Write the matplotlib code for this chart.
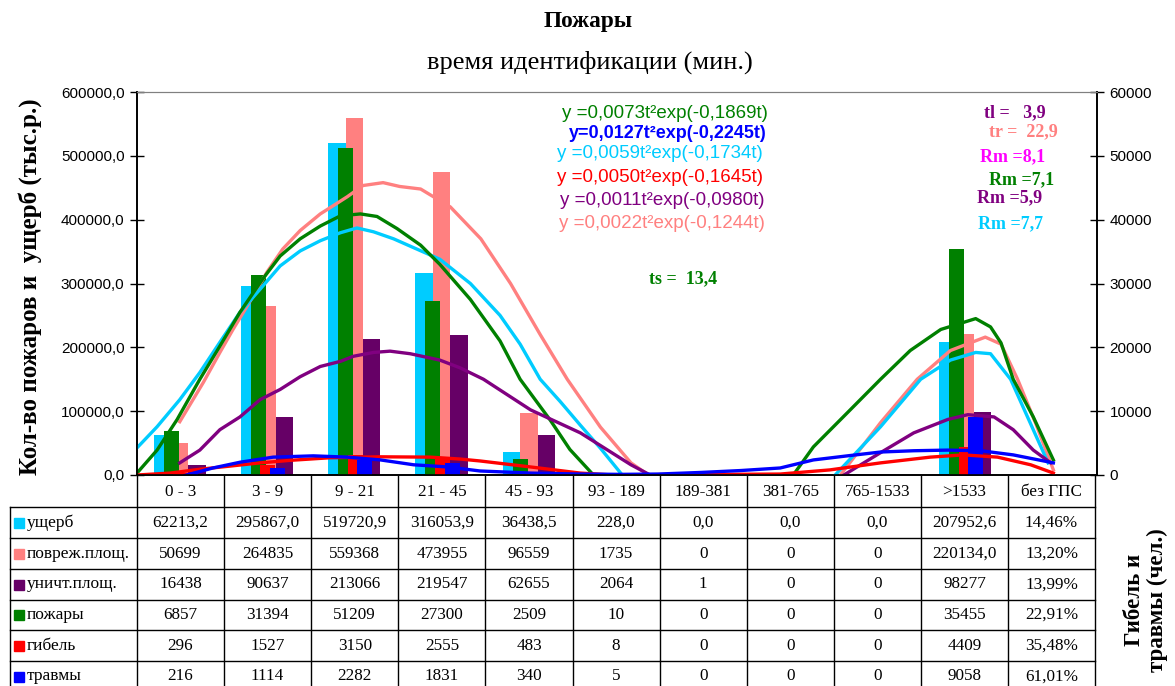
# Пожары - время идентификации: столбцы + сглаженные кривые + таблица данных
import numpy as np
import matplotlib
matplotlib.use('Agg')
import matplotlib.pyplot as plt
from matplotlib.patches import Rectangle
from matplotlib.lines import Line2D

# интервалы времени (мин.)
categories = ['0 - 3', '3 - 9', '9 - 21', '21 - 45', '45 - 93', '93 - 189',
              '189-381', '381-765', '765-1533', '>1533', 'без ГПС']

# левая ось
damage = [62213.2, 295867.0, 519720.9, 316053.9, 36438.5, 228.0, 0.0, 0.0, 0.0, 207952.6]
damaged_area = [50699, 264835, 559368, 473955, 96559, 1735, 0, 0, 0, 220134.0]
destroyed_area = [16438, 90637, 213066, 219547, 62655, 2064, 1, 0, 0, 98277]
# правая ось
fires = [6857, 31394, 51209, 27300, 2509, 10, 0, 0, 0, 35455]
deaths = [296, 1527, 3150, 2555, 483, 8, 0, 0, 0, 4409]
injuries = [216, 1114, 2282, 1831, 340, 5, 0, 0, 0, 9058]
# колонка "без ГПС"
no_gps = ['14,46%', '13,20%', '13,99%', '22,91%', '35,48%', '61,01%']

# кривые (x в единицах категорий, y в единицах левой оси)
damage_cx = [0, 0.23, 0.49, 0.72, 0.95, 1.18, 1.41, 1.64, 1.87, 2.10, 2.33, 2.52, 2.71, 2.94,
             3.47, 3.82, 4.16, 4.39, 4.62, 4.85, 5.08, 5.31, 5.56, np.nan,
             8.0, 8.52, 8.98, 9.32, 9.61, 9.78, 10.01, 10.24, 10.44]
damage_cy = [42500, 75600, 118000, 160600, 208000, 255000, 291000, 327500, 351000, 367000,
             379500, 387000, 381000, 370000, 338000, 300000, 250000, 205000, 150000, 115000,
             78000, 42000, 0, np.nan,
             0, 75600, 150000, 180000, 192000, 190000, 150000, 80000, 19000]

area_cx = [0.49, 0.76, 0.95, 1.10, 1.33, 1.49, 1.67, 1.87, 2.10, 2.25, 2.41, 2.59, 2.82, 3.01,
           3.25, 3.59, 3.94, 4.28, 4.62, 4.93, 5.31, 5.66, 5.86, np.nan,
           8.06, 8.52, 8.94, 9.32, 9.72, 9.90, 10.09, 10.30, 10.50]
area_cy = [83500, 145000, 192000, 228000, 280000, 318000, 354000, 383000, 409000, 422000,
           436000, 453500, 458000, 452000, 448000, 420000, 370000, 300000, 220000, 150000,
           75000, 19000, 0, np.nan,
           0, 82000, 150000, 195000, 216000, 205000, 150000, 80000, 8000]

fires_cx = [0, 0.23, 0.46, 0.72, 0.95, 1.18, 1.44, 1.64, 1.87, 2.10, 2.33, 2.56, 2.75, 2.98,
            3.25, 3.47, 3.82, 4.16, 4.39, 4.74, 4.96, 5.23, np.nan,
            7.52, 7.75, 8.14, 8.52, 8.86, 9.21, 9.61, 9.78, 9.90, 10.04, 10.27, 10.50]
fires_cy = [3000, 39000, 87000, 150000, 202000, 255000, 307000, 343000, 370000, 390000,
            406000, 409000, 405000, 386000, 360000, 330000, 275000, 210000, 150000, 85000,
            40000, 0, np.nan,
            0, 44000, 97600, 150000, 195000, 228000, 245000, 232000, 207000, 150000, 91000, 23600]

destroyed_cx = [0.49, 0.72, 0.95, 1.18, 1.41, 1.64, 1.87, 2.10, 2.33, 2.48, 2.71, 2.90, 3.13,
                3.47, 3.70, 3.97, 4.51, 5.08, 5.66, 5.88, np.nan,
                8.10, 8.52, 8.90, 9.29, 9.52, 9.82, 10.04, 10.27, 10.47]
destroyed_cy = [19000, 39000, 71000, 91000, 118000, 134000, 154000, 170000, 178000, 186000,
                192000, 194000, 190000, 180000, 168000, 150000, 102000, 66000, 16000, 0, np.nan,
                0, 35000, 66000, 87000, 94500, 91000, 71000, 39000, 19000]

deaths_cx = [0, 0.38, 0.72, 1.07, 1.41, 1.76, 2.21, 2.79, 3.36, 3.70, 3.93, 4.51, 5.08, 5.46,
             5.88, 6.46, 7.0, 7.37, 7.94, 8.52, 9.09, 9.47, 9.86, 10.24, 10.50]
deaths_cy = [0, 3000, 9000, 14000, 19000, 23000, 27000, 28500, 28000, 25000, 22000, 12600,
             3000, 0, 500, 1000, 1200, 1500, 8000, 19000, 28000, 31500, 28000, 16000, 3000]

injuries_cx = [0.57, 0.87, 1.18, 1.56, 2.02, 2.41, 2.79, 3.17, 3.56, 3.93, 4.51, 5.08, 5.54,
               5.97, 6.46, 6.92, 7.37, 7.75, 8.14, 8.52, 8.90, 9.29, 9.67, 10.04, 10.50]
injuries_cy = [0, 11000, 20000, 28000, 30000, 28000, 23600, 16000, 12600, 6300, 3000, 1500,
               1000, 1500, 4000, 7000, 11000, 23600, 30000, 36000, 38000, 39000, 38000,
               31500, 19000]

CYAN = '#00CCFF'
SALMON = '#FF8080'
PURPLE = '#660066'
PURPLE_LINE = '#800080'
GREEN = '#008000'
RED = '#FF0000'
BLUE = '#0000FF'
SERIF = 'Liberation Serif'
SANS = 'Liberation Sans'

W, H = 1175, 686


def fx(x):
    return x / W


def fy(y):
    return 1 - y / H


fig = plt.figure(figsize=(W / 100, H / 100), dpi=100)
ax = fig.add_axes([fx(137), fy(475), fx(1097) - fx(137), fy(92) - fy(475)])
ax2 = ax.twinx()

n = 10
x = np.arange(n) + 0.5
ratio = 10.0  # правая ось 0..60000 против левой 0..600000

# основные столбцы (левая ось)
ax.bar(x - 0.21, damage, width=0.2, color=CYAN, zorder=2)
ax.bar(x - 0.01, damaged_area, width=0.2, color=SALMON, zorder=2)
ax.bar(x + 0.19, destroyed_area, width=0.2, color=PURPLE, zorder=2)
# вспомогательные столбцы (правая ось, рисуем в масштабе левой)
ax.bar(x - 0.11, np.array(fires) * ratio, width=0.172, color=GREEN, zorder=3)
ax.bar(x + 0.0, np.array(deaths) * ratio, width=0.172, color=RED, zorder=3)
ax.bar(x + 0.11, np.array(injuries) * ratio, width=0.172, color=BLUE, zorder=3)

lw = 2.4
ax.plot(area_cx, area_cy, color=SALMON, lw=lw, zorder=4)
ax.plot(damage_cx, damage_cy, color=CYAN, lw=lw, zorder=4)
ax.plot(fires_cx, fires_cy, color=GREEN, lw=lw, zorder=4)
ax.plot(destroyed_cx, destroyed_cy, color=PURPLE_LINE, lw=lw, zorder=4)
ax.plot(deaths_cx, deaths_cy, color=RED, lw=lw, zorder=4)
ax.plot(injuries_cx, injuries_cy, color=BLUE, lw=lw, zorder=4)

ax.set_xlim(0, 11)
ax.set_ylim(0, 600000)
ax2.set_ylim(0, 60000)
ax.set_xticks([])
ax.set_yticks(np.arange(0, 600001, 100000))
ax.set_yticklabels([f"{v:.1f}".replace('.', ',') for v in np.arange(0, 600001, 100000)],
                   family=SANS, fontsize=11)
ax2.set_yticks(np.arange(0, 60001, 10000))
ax2.set_yticklabels([str(v) for v in np.arange(0, 60001, 10000)], family=SANS, fontsize=11)
ax.tick_params(axis='y', direction='inout', length=10, width=1, pad=4)
ax2.tick_params(axis='y', direction='inout', length=10, width=1, pad=4)
for a in (ax, ax2):
    a.spines['top'].set_color('#808080')
    a.spines['left'].set_linewidth(1.2)
    a.spines['right'].set_linewidth(1.2)
    a.spines['bottom'].set_linewidth(1.2)

# заголовок
fig.text(fx(588), fy(22), 'Пожары', family=SERIF, fontweight='bold', fontsize=16.8,
         ha='center', va='center')
fig.text(fx(590), fy(62), 'время идентификации (мин.)', family=SERIF, fontsize=19,
         ha='center', va='center')

fig.text(fx(30), fy(287), 'Кол-во пожаров и  ущерб (тыс.р.)', family=SERIF, fontweight='bold',
         fontsize=18, rotation=90, ha='center', va='center')
fig.text(fx(1146), fy(600), 'Гибель и\nтравмы (чел.)', family=SERIF, fontweight='bold',
         fontsize=16.5, rotation=90, ha='center', va='center', multialignment='center',
         linespacing=1.15)

# формулы
formulas = [
    ('y =0,0073t²exp(-0,1869t)', GREEN, 'normal', 665, 113),
    ('y=0,0127t²exp(-0,2245t)', BLUE, 'bold', 668, 133),
    ('y =0,0059t²exp(-0,1734t)', CYAN, 'normal', 660, 153),
    ('y =0,0050t²exp(-0,1645t)', RED, 'normal', 660, 177),
    ('y =0,0011t²exp(-0,0980t)', PURPLE_LINE, 'normal', 662, 200),
    ('y =0,0022t²exp(-0,1244t)', SALMON, 'normal', 662, 224),
]
for txt, col, wt, tx, ty in formulas:
    fig.text(fx(tx), fy(ty), txt, family=SANS, fontsize=13.5 if wt == 'normal' else 13,
             color=col, fontweight=wt, ha='center', va='center')

notes = [
    ('tl =   3,9', PURPLE_LINE, 1015, 113),
    ('tr =  22,9', SALMON, 1023, 132),
    ('Rm =8,1', '#FF00FF', 1013, 157),
    ('Rm =7,1', GREEN, 1022, 180),
    ('Rm =5,9', PURPLE_LINE, 1010, 198),
    ('Rm =7,7', CYAN, 1011, 224),
    ('ts =  13,4', GREEN, 683, 279),
]
for txt, col, tx, ty in notes:
    fig.text(fx(tx), fy(ty), txt, family=SERIF, fontsize=13, color=col, fontweight='bold',
             ha='center', va='center')

# таблица данных
col_edges = [137 + i * 87.1 for i in range(12)]
row_edges = [476, 507, 538, 569, 600, 630, 661, 692]
table_left = 10


def hline(y, x0, x1):
    fig.add_artist(Line2D([fx(x0), fx(x1)], [fy(y), fy(y)], color='black', lw=1))


def vline(x, y0, y1):
    fig.add_artist(Line2D([fx(x), fx(x)], [fy(y0), fy(y1)], color='black', lw=1))


for y in row_edges[1:]:
    hline(y, table_left, col_edges[-1])
for xe in col_edges:
    vline(xe, row_edges[0], row_edges[-1])
vline(table_left, row_edges[1], row_edges[-1])

for i, c in enumerate(categories):
    cx = (col_edges[i] + col_edges[i + 1]) / 2
    fig.text(fx(cx), fy((row_edges[0] + row_edges[1]) / 2), c, family=SERIF, fontsize=12.3,
             ha='center', va='center')


def fmt(v):
    if isinstance(v, float):
        return f"{v:.1f}".replace('.', ',')
    return str(v)


rows = [
    ('ущерб', CYAN, damage),
    ('повреж.площ.', SALMON, damaged_area),
    ('уничт.площ.', PURPLE, destroyed_area),
    ('пожары', GREEN, fires),
    ('гибель', RED, deaths),
    ('травмы', BLUE, injuries),
]
for r, (name, col, vals) in enumerate(rows):
    yc = (row_edges[r + 1] + row_edges[r + 2]) / 2
    fig.add_artist(Rectangle((fx(14), fy(yc + 5)), fx(10), 10 / H, color=col,
                             transform=fig.transFigure))
    fig.text(fx(27), fy(yc), name, family=SERIF, fontsize=12.5, ha='left', va='center')
    cells = [fmt(v) for v in vals] + [no_gps[r]]
    for i, s in enumerate(cells):
        cx = (col_edges[i] + col_edges[i + 1]) / 2
        fig.text(fx(cx), fy(yc), s, family=SERIF, fontsize=12.3, ha='center', va='center')

plt.savefig('out.png', dpi=100)
